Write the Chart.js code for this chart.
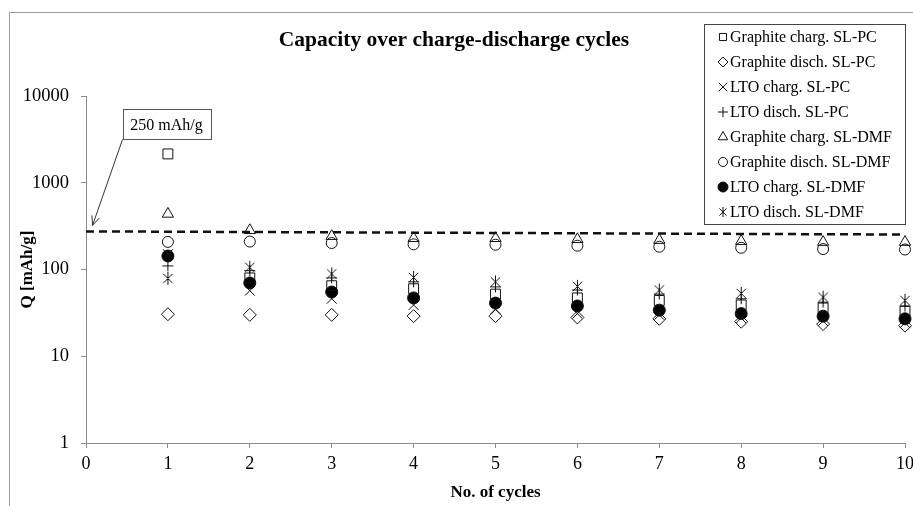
<!DOCTYPE html>
<html>
<head>
<meta charset="utf-8">
<script src="https://cdn.jsdelivr.net/npm/chart.js@4.4.1/dist/chart.umd.min.js"></script>
<style>
  html, body { margin: 0; padding: 0; background: #fff; }
  #wrap { width: 913px; height: 506px; }
</style>
</head>
<body>
<div id="wrap"><canvas id="c" width="913" height="506"></canvas></div>
<script>
// Cycle numbers and capacities in mAh/g
const cycles = [1, 2, 3, 4, 5, 6, 7, 8, 9, 10];
const graphiteChargPC  = [2150, 80, 65, 60, 52, 47, 44, 39, 36, 33];
const graphiteDischPC  = [30.5, 30, 30, 29, 29, 28, 27, 25, 23.5, 22.5];
const ltoChargPC       = [150, 57, 46, 39, 35, 31, 30, 27.5, 25.5, 24.3];
const ltoDischPC       = [110, 97, 80, 72, 63, 58, 52, 46, 42, 38];
const graphiteChargDMF = [437, 283, 242, 229, 229, 223, 218, 212, 207, 207];
const graphiteDischDMF = [208, 210, 202, 195, 193, 188, 183, 178, 172, 170];
const ltoChargDMF      = [143, 70, 55, 47, 41, 38, 34, 31, 29, 27];
const ltoDischDMF      = [79, 106, 89, 81, 72, 64, 58, 53, 48, 44];

// Reference capacity line (value at cycle 0 and at cycle 10)
const refCycles = [0, 10];
const refLine = [275, 253];
const refLabel = '250 mAh/g';

const seriesNames = [
  'Graphite charg. SL-PC', 'Graphite disch. SL-PC', 'LTO charg. SL-PC', 'LTO disch. SL-PC',
  'Graphite charg. SL-DMF', 'Graphite disch. SL-DMF', 'LTO charg. SL-DMF', 'LTO disch. SL-DMF'
];
const seriesValues = [
  graphiteChargPC, graphiteDischPC, ltoChargPC, ltoDischPC,
  graphiteChargDMF, graphiteDischDMF, ltoChargDMF, ltoDischDMF
];

const xTicks = [0, 1, 2, 3, 4, 5, 6, 7, 8, 9, 10];
const yTicks = [1, 10, 100, 1000, 10000];

const SERIF = '"Liberation Serif", "Times New Roman", serif';
const INK = '#111';

// asterisk marker: a cross with a vertical stroke
function makeStar(r) {
  const s = Math.ceil(r * 2 + 2);
  const c = document.createElement('canvas');
  c.width = s; c.height = s;
  const g = c.getContext('2d');
  g.strokeStyle = INK; g.lineWidth = 1;
  const m = s / 2, d = r * 0.72;
  g.beginPath();
  g.moveTo(m - d, m - d); g.lineTo(m + d, m + d);
  g.moveTo(m + d, m - d); g.lineTo(m - d, m + d);
  g.moveTo(m, m - r); g.lineTo(m, m + r);
  g.stroke();
  return c;
}
const starBig = makeStar(6.5);
const starSmall = makeStar(5);

const markerStyles = [
  { pointStyle: 'rect',     radius: 7,   fill: 'rgba(0,0,0,0)', lr: 5 },
  { pointStyle: 'rectRot',  radius: 6.5, fill: 'rgba(0,0,0,0)', lr: 5 },
  { pointStyle: 'crossRot', radius: 7,   fill: 'rgba(0,0,0,0)', lr: 6 },
  { pointStyle: 'cross',    radius: 5.5, fill: 'rgba(0,0,0,0)', lr: 5 },
  { pointStyle: 'triangle', radius: 6.5, fill: 'rgba(0,0,0,0)', lr: 5.5 },
  { pointStyle: 'circle',   radius: 5.5, fill: 'rgba(0,0,0,0)', lr: 4.5 },
  { pointStyle: 'circle',   radius: 6,   fill: '#000',          lr: 5 },
  { pointStyle: starBig,    radius: 6.5, fill: 'rgba(0,0,0,0)', lr: 5, legendStyle: starSmall }
];

const datasets = seriesValues.map((vals, i) => ({
  label: seriesNames[i],
  data: cycles.map((c, j) => ({ x: c, y: vals[j] })),
  pointStyle: markerStyles[i].pointStyle,
  pointRadius: markerStyles[i].radius,
  pointBackgroundColor: markerStyles[i].fill,
  pointBorderColor: INK,
  pointBorderWidth: 1,
  showLine: false,
  clip: false
}));

datasets.push({
  label: refLabel,
  data: refCycles.map((c, j) => ({ x: c, y: refLine[j] })),
  showLine: true,
  borderColor: INK,
  borderWidth: 2.5,
  borderDash: [8, 5],
  pointRadius: 0,
  clip: false
});

// frame around the whole chart region
const framePlugin = {
  id: 'frame',
  beforeDraw(chart) {
    const ctx = chart.ctx;
    ctx.save();
    ctx.strokeStyle = '#9a9a9a';
    ctx.lineWidth = 1;
    ctx.beginPath();
    ctx.moveTo(9.5, 506); ctx.lineTo(9.5, 12.5); ctx.lineTo(913, 12.5);
    ctx.stroke();
    ctx.restore();
  }
};

// title, legend box and the reference-line callout
const decorPlugin = {
  id: 'decor',
  afterDraw(chart) {
    const ctx = chart.ctx;
    const xs = chart.scales.x, ys = chart.scales.y;
    ctx.save();

    // title
    ctx.fillStyle = '#000';
    ctx.font = 'bold 21.5px ' + SERIF;
    ctx.textAlign = 'center';
    ctx.textBaseline = 'middle';
    ctx.fillText('Capacity over charge-discharge cycles', 454, 40);

    // legend
    const bx = 704.5, by = 24.5, bw = 201, bh = 200;
    ctx.fillStyle = '#fff';
    ctx.fillRect(bx, by, bw, bh);
    ctx.strokeStyle = '#444';
    ctx.lineWidth = 1;
    ctx.strokeRect(bx, by, bw, bh);
    ctx.font = '16px ' + SERIF;
    ctx.textAlign = 'left';
    ctx.textBaseline = 'middle';
    seriesNames.forEach((name, i) => {
      const y = 37 + i * 25;
      const ms = markerStyles[i];
      ctx.strokeStyle = INK;
      ctx.fillStyle = ms.fill;
      ctx.lineWidth = 1;
      Chart.helpers.drawPoint(ctx, {
        pointStyle: ms.legendStyle || ms.pointStyle, radius: ms.lr, rotation: 0, borderWidth: 1
      }, 723, y);
      ctx.fillStyle = '#000';
      ctx.fillText(name, 730, y + 1);
    });

    // callout for the reference line
    const tipX = xs.getPixelForValue(0.08);
    const tipY = ys.getPixelForValue(refLine[0]) - 6;
    const boxL = tipX + 30, boxB = tipY - 86, boxW = 88, boxH = 30;
    ctx.strokeStyle = '#333';
    ctx.lineWidth = 1;
    ctx.beginPath();
    ctx.moveTo(boxL, boxB);
    ctx.lineTo(tipX, tipY);
    const ang = Math.atan2(tipY - boxB, tipX - boxL);
    const hl = 10;
    ctx.moveTo(tipX, tipY);
    ctx.lineTo(tipX - hl * Math.cos(ang - 0.4), tipY - hl * Math.sin(ang - 0.4));
    ctx.moveTo(tipX, tipY);
    ctx.lineTo(tipX - hl * Math.cos(ang + 0.4), tipY - hl * Math.sin(ang + 0.4));
    ctx.stroke();
    ctx.fillStyle = '#fff';
    ctx.fillRect(boxL, boxB - boxH, boxW, boxH);
    ctx.strokeStyle = '#555';
    ctx.strokeRect(Math.round(boxL) + 0.5, Math.round(boxB - boxH) + 0.5, boxW, boxH);
    ctx.fillStyle = '#000';
    ctx.font = '16px ' + SERIF;
    ctx.textAlign = 'center';
    ctx.textBaseline = 'middle';
    ctx.fillText(refLabel, boxL + boxW / 2, boxB - boxH / 2 + 1);

    ctx.restore();
  }
};

new Chart(document.getElementById('c'), {
  type: 'scatter',
  data: { datasets },
  options: {
    responsive: false,
    animation: false,
    devicePixelRatio: 1,
    layout: { padding: { top: 96, right: 7, left: 0, bottom: 0 } },
    plugins: { legend: { display: false }, tooltip: { enabled: false }, title: { display: false } },
    scales: {
      x: {
        type: 'linear', min: 0, max: 10,
        afterBuildTicks: s => { s.ticks = xTicks.map(v => ({ value: v })); },
        afterFit: s => { s.height = 63; s.paddingLeft = 0; s.paddingRight = 0; },
        ticks: { font: { family: SERIF, size: 18 }, color: '#000', padding: 5, maxRotation: 0, autoSkip: false },
        grid: { display: true, drawOnChartArea: false, drawTicks: true, tickLength: 5, color: '#8c8c8c' },
        border: { display: true, color: '#8c8c8c', width: 1 },
        title: { display: true, text: 'No. of cycles', color: '#000',
                 font: { family: SERIF, size: 17, weight: 'bold' }, padding: { top: 0, bottom: 3 } }
      },
      y: {
        type: 'logarithmic', min: 1, max: 10000,
        afterBuildTicks: s => { s.ticks = yTicks.map(v => ({ value: v })); },
        afterFit: s => { s.width = 86; },
        ticks: { font: { family: SERIF, size: 18.5 }, color: '#000', padding: 12,
                 autoSkip: false, callback: v => String(v) },
        grid: { display: true, drawOnChartArea: false, drawTicks: true, tickLength: 5, color: '#8c8c8c' },
        border: { display: true, color: '#8c8c8c', width: 1 },
        title: { display: true, text: 'Q [mAh/g]', color: '#000',
                 font: { family: SERIF, size: 17, weight: 'bold' }, padding: { top: 17, bottom: 0 } }
      }
    }
  },
  plugins: [framePlugin, decorPlugin]
});
</script>
</body>
</html>
